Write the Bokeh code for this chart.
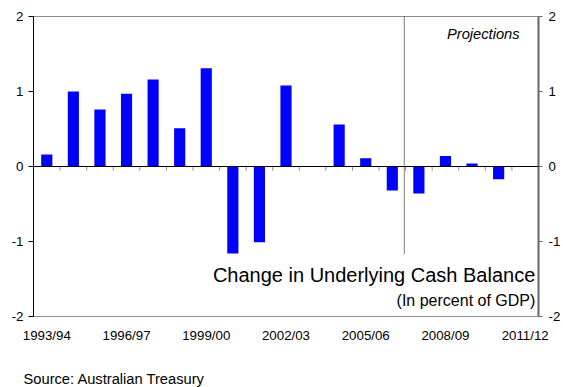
from bokeh.plotting import figure
from bokeh.models import Range1d, LinearAxis, FixedTicker, Span, Label, Title
from bokeh.embed import file_html
from bokeh.resources import INLINE

# ---- data ----
years = ["1993/94", "1994/95", "1995/96", "1996/97", "1997/98", "1998/99",
         "1999/00", "2000/01", "2001/02", "2002/03", "2003/04", "2004/05",
         "2005/06", "2006/07", "2007/08", "2008/09", "2009/10", "2010/11",
         "2011/12"]
balance = [0.16, 1.00, 0.76, 0.97, 1.16, 0.51, 1.31, -1.16, -1.01, 1.08,
           0.00, 0.56, 0.11, -0.32, -0.36, 0.14, 0.04, -0.17, 0.00]
y_ticks = [-2, -1, 0, 1, 2]
y_tick_labels = ["-2", "-1", "0", "1", "2"]
label_every = 3
projection_start = "2007/08"

FONT = "Liberation Sans"
n = len(years)
xs = list(range(n))
y_overrides = dict(zip(y_ticks, y_tick_labels))

p = figure(width=563, height=387, output_backend="svg", toolbar_location=None,
           x_range=Range1d(-0.5, n - 0.5), y_range=Range1d(-2, 2),
           min_border_left=33, min_border_right=22, min_border_top=16,
           min_border_bottom=71)
p.background_fill_color = "white"
p.border_fill_color = "white"
p.outline_line_color = "#8c8c8c"
p.outline_line_width = 1
p.xgrid.visible = False
p.ygrid.visible = False

# bars
p.vbar(x=xs, top=balance, bottom=0, width=0.42, fill_color="#0000ff",
       line_color=None)

# zero line and boundary ticks
p.add_layout(Span(location=0, dimension="width", line_color="black",
                  line_width=1))
bounds = [i + 0.5 for i in range(n - 1)]
p.segment(x0=bounds, y0=[0] * len(bounds), x1=bounds,
          y1=[-0.055] * len(bounds), line_color="#8c8c8c", line_width=1)

# projections divider
px = years.index(projection_start) - 0.55
p.segment(x0=[px], y0=[2], x1=[px], y1=[-1.16], line_color="black",
          line_width=1, line_dash="1 1")

# left axis
ya = p.yaxis[0]
ya.ticker = FixedTicker(ticks=y_ticks)
ya.major_label_overrides = y_overrides
ya.major_tick_out = 5
ya.major_tick_in = 0
ya.minor_tick_line_color = None
ya.axis_line_color = "black"
ya.major_tick_line_color = "black"
ya.major_label_standoff = 5
ya.major_label_text_font = FONT
ya.major_label_text_font_size = "13.3px"
ya.major_label_text_color = "black"

# right axis
ra = LinearAxis(ticker=FixedTicker(ticks=y_ticks))
ra.major_label_overrides = y_overrides
ra.major_tick_out = 4
ra.major_tick_in = 0
ra.minor_tick_line_color = None
ra.axis_line_color = "#666666"
ra.axis_line_width = 2
ra.major_tick_line_color = "#666666"
ra.major_label_standoff = 6
ra.major_label_text_font = FONT
ra.major_label_text_font_size = "13.3px"
ra.major_label_text_color = "black"
p.add_layout(ra, "right")

# bottom axis
xa = p.xaxis[0]
tick_idx = list(range(0, n, label_every))
xa.ticker = FixedTicker(ticks=tick_idx)
xa.major_label_overrides = {i: years[i] for i in tick_idx}
xa.major_tick_out = 0
xa.major_tick_in = 0
xa.minor_tick_line_color = None
xa.axis_line_color = "#8c8c8c"
xa.major_label_standoff = 11
xa.major_label_text_font = FONT
xa.major_label_text_font_size = "13.3px"
xa.major_label_text_color = "black"
# blank axis label acts as spacer between tick labels and the source note
xa.axis_label = " "
xa.axis_label_standoff = 5
xa.axis_label_text_font = FONT
xa.axis_label_text_font_size = "13.3px"

# source note below the chart
src = Title(text="Source: Australian Treasury", align="left", offset=-10,
            standoff=0, vertical_align="bottom", text_font=FONT,
            text_font_size="14.7px", text_font_style="normal",
            text_color="black")
p.add_layout(src, "below")

# texts
p.add_layout(Label(x=17.79, y=1.77, text="Projections", text_font=FONT,
                   text_font_size="14.7px", text_font_style="italic",
                   text_align="right", text_baseline="middle",
                   text_color="black"))
p.add_layout(Label(x=18.38, y=-1.453, text="Change in Underlying Cash Balance",
                   text_font=FONT, text_font_size="20px", text_align="right",
                   text_baseline="middle", text_color="black"))
p.add_layout(Label(x=18.38, y=-1.78, text="(In percent of GDP)",
                   text_font=FONT, text_font_size="16px", text_align="right",
                   text_baseline="middle", text_color="black"))

open("out.html", "w").write(file_html(p, INLINE))
